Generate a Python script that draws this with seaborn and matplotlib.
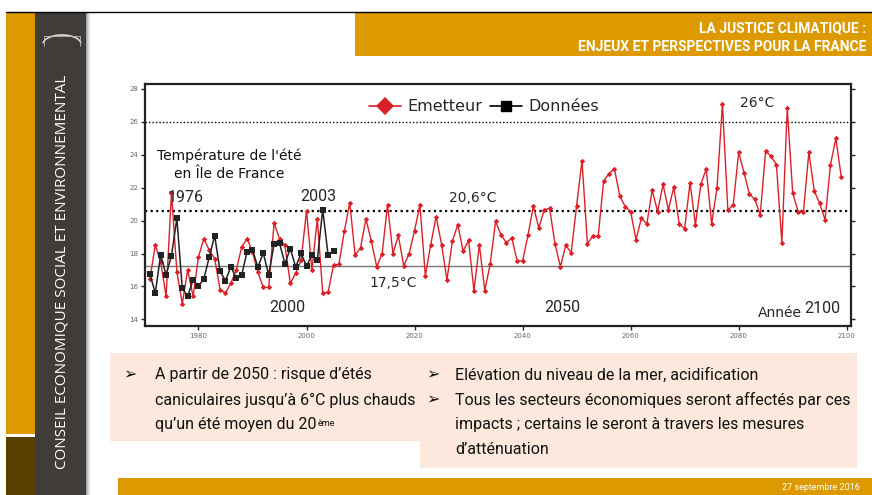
import numpy as np
import matplotlib
matplotlib.use("Agg")
import matplotlib.pyplot as plt
import seaborn as sns
from matplotlib.patches import Rectangle
from matplotlib.lines import Line2D

# summer temperature, Ile de France: model ("Emetteur") and observations ("Donnees")
model_start = 1971
model_temp = [16.45, 18.5, 17.5, 15.4, 21.7, 16.9, 14.95, 17.0, 15.4, 17.8,
              18.9, 18.2, 17.7, 15.8, 15.6, 16.2, 17.0, 18.4, 18.9, 18.1,
              16.85, 15.95, 15.95, 19.85, 18.9, 18.5, 16.2, 16.8, 17.6, 20.6,
              17.0, 20.1, 15.6, 15.65, 17.3, 17.35, 19.35, 21.1, 17.9, 18.35,
              20.1, 18.75, 17.2, 18.0, 20.95, 18.0, 19.1, 17.25, 18.0, 19.4,
              20.95, 16.65, 18.55, 20.25, 18.55, 16.4, 18.75, 19.75, 18.15, 18.8,
              15.75, 18.55, 15.75, 17.35, 19.95, 19.15, 18.65, 18.95, 17.55, 17.55,
              19.1, 20.9, 19.55, 20.65, 20.75, 18.6, 17.2, 18.5, 18.05, 20.9,
              23.65, 18.6, 19.05, 19.05, 22.4, 22.85, 23.15, 21.5, 20.85, 20.55,
              18.85, 20.15, 19.8, 21.85, 20.55, 22.2, 20.65, 22.05, 19.8, 19.5,
              22.3, 19.75, 22.2, 23.15, 19.8, 22.0, 27.1, 20.65, 20.95, 24.15,
              22.9, 21.6, 21.3, 20.35, 24.25, 23.9, 23.4, 18.65, 26.85, 21.7,
              20.55, 20.55, 24.15, 21.8, 21.05, 20.05, 23.4, 25.0, 22.65]
obs_start = 1971
obs_temp = [16.78, 15.6, 17.93, 16.7, 17.87, 20.14, 15.89, 15.4, 16.41, 16.01,
            16.47, 17.79, 19.09, 16.92, 16.35, 17.2, 16.49, 16.7, 18.12, 18.22,
            17.18, 18.03, 16.7, 18.6, 18.64, 17.39, 18.3, 17.18, 18.01, 17.24,
            17.91, 17.61, 20.67, 17.89, 18.16]
level_hot = 26.0
level_future = 20.6
level_past = 17.25

model_years = np.arange(model_start, model_start + len(model_temp))
obs_years = np.arange(obs_start, obs_start + len(obs_temp))

RED = "#dc2027"
GOLD = "#dc9a00"
BROWN = "#5a4000"
DARK = "#3f3c39"
PEACH = "#fce8dc"
NARROW = ["Roboto", "DejaVu Sans"]

sns.set_theme(style="ticks")
plt.rcParams["font.family"] = ["DejaVu Sans"]

W, H = 872, 495
fig = plt.figure(figsize=(W / 100, H / 100), dpi=100)
fig.patch.set_facecolor("white")


def box(x0, y0, x1, y1, color, **kw):
    fig.add_artist(Rectangle((x0 / W, 1 - y1 / H), (x1 - x0) / W, (y1 - y0) / H,
                             transform=fig.transFigure, facecolor=color, lw=0, **kw))


def txt(x, y, s, **kw):
    return fig.text(x / W, 1 - y / H, s, **kw)


# slide frame
box(6, 12, 35, 434, GOLD)
box(6, 437, 35, 495, BROWN)
box(35, 12, 86, 495, DARK)
for i, a in enumerate([0.35, 0.25, 0.16, 0.09, 0.04]):
    box(86 + i, 12, 87 + i, 495, "black", alpha=a)
fig.add_artist(Line2D([6 / W, 1], [1 - 12 / H, 1 - 12 / H], transform=fig.transFigure,
                      color="black", lw=1))
txt(62, 272, "CONSEIL ECONOMIQUE SOCIAL ET ENVIRONNEMENTAL", color="white",
    rotation=90, ha="center", va="center", fontsize=11, family=["Open Sans", "DejaVu Sans"])
# small logo (building outline)
t = np.linspace(0.15, np.pi - 0.15, 20)
fig.add_artist(Line2D((62 + 19 * np.cos(t)) / W, 1 - (44 - 9 * np.sin(t)) / H,
                      transform=fig.transFigure, color="#d8d8d8", lw=1.2))
fig.add_artist(Line2D([44 / W, 44 / W, 80 / W, 80 / W],
                      [1 - 46 / H, 1 - 36 / H, 1 - 36 / H, 1 - 46 / H],
                      transform=fig.transFigure, color="#bbbbbb", lw=0.6))

box(355, 13, 872, 56, GOLD)
txt(866, 28, "LA JUSTICE CLIMATIQUE :", color="white", ha="right", va="center",
    fontsize=10, fontweight="bold", family=NARROW)
txt(866, 47, "ENJEUX ET PERSPECTIVES POUR LA FRANCE", color="white", ha="right",
    va="center", fontsize=10, fontweight="bold", family=NARROW)

box(118, 478, 872, 495, GOLD)
txt(860, 488, "27 septembre 2016", color="white", ha="right", va="center",
    fontsize=6.5, family=NARROW)

# chart
ax = fig.add_axes([145 / W, 1 - 326 / H, 706 / W, 242 / H])
ax.set_facecolor("white")
ax.axhline(level_hot, color="black", lw=1, ls=(0, (1, 1.5)), zorder=1)
ax.axhline(level_future, color="black", lw=1.6, ls=(0, (1, 1.5)), zorder=1)
ax.axhline(level_past, color="#777777", lw=1, zorder=1)

sns.lineplot(x=model_years, y=model_temp, ax=ax, color=RED, lw=1.0, marker="D",
             markersize=2.8, markeredgewidth=0, legend=False, zorder=3)
sns.lineplot(x=obs_years, y=obs_temp, ax=ax, color="#222222", lw=1.1, marker="s",
             markersize=4.2, markeredgewidth=0, legend=False, zorder=4)

ax.set_xlim(1970.1, 2100.8)
ax.set_ylim(13.6, 28.3)
ax.set_xticks(range(1980, 2101, 20))
ax.set_yticks(range(14, 29, 2))
ax.set_xlabel("")
ax.set_ylabel("")
ax.tick_params(direction="out", length=3, width=1, labelsize=5, labelcolor="#666666",
               color="#222222", pad=2)
ax.tick_params(axis="y", right=True, labelright=False)
for sp in ax.spines.values():
    sp.set_visible(True)
    sp.set_linewidth(1.6)
    sp.set_color("#222222")

handles = [Line2D([], [], color=RED, lw=1.2, marker="D", markersize=9, markeredgewidth=0),
           Line2D([], [], color="black", lw=1.2, marker="s", markersize=7)]
ax.legend(handles, ["Emetteur", "Données"], loc="center", bbox_to_anchor=(0.48, 0.905),
          ncol=2, frameon=False, fontsize=11.5, handlelength=2.0, handletextpad=0.4,
          columnspacing=0.5)

ax.text(1985.7, 23.4, "Température de l'été\nen Île de France", ha="center", va="center",
        fontsize=10, linespacing=1.4, color="#111111")
ax.text(1977.6, 21.4, "1976", ha="center", va="center", fontsize=11.5, family=NARROW)
ax.text(2002.1, 21.45, "2003", ha="center", va="center", fontsize=11.5, family=NARROW)
ax.text(1996.5, 14.7, "2000", ha="center", va="center", fontsize=11.5, family=NARROW)
ax.text(2047.4, 14.7, "2050", ha="center", va="center", fontsize=11.5, family=NARROW)
ax.text(2095.4, 14.65, "2100", ha="center", va="center", fontsize=11.5, family=NARROW)
ax.text(2016.0, 16.2, "17,5°C", ha="center", va="center", fontsize=10)
ax.text(2030.7, 21.4, "20,6°C", ha="center", va="center", fontsize=10)
ax.text(2083.5, 27.15, "26°C", ha="center", va="center", fontsize=10)
ax.text(2087.6, 14.4, "Année", ha="center", va="center", fontsize=10)

# bullet boxes
box(110, 353, 857, 441, PEACH)
box(420, 441, 857, 468, PEACH)
bkw = dict(va="center", fontsize=11.5, family=NARROW, color="#111111")
txt(123, 375, "\u27a2", **bkw)
txt(155, 375, "A partir de 2050 : risque d\u2019étés", **bkw)
txt(155, 400, "caniculaires jusqu\u2019à 6°C plus chauds", **bkw)
last = txt(155, 425, "qu\u2019un été moyen du 20", **bkw)
txt(426, 375, "\u27a2", **bkw)
txt(455, 375, "Elévation du niveau de la mer, acidification", **bkw)
txt(426, 400, "\u27a2", **bkw)
txt(455, 400, "Tous les secteurs économiques seront affectés par ces", **bkw)
txt(455, 425, "impacts ; certains le seront à travers les mesures", **bkw)
txt(455, 450, "d\u2019atténuation", **bkw)

fig.canvas.draw()
bb = last.get_window_extent(fig.canvas.get_renderer())
fig.text((bb.x1 + 1) / W, (bb.y1 - 1) / H, "ème", va="top", fontsize=6.5, family=NARROW,
         color="#111111")

fig.savefig("out.png", dpi=100, facecolor="white")
